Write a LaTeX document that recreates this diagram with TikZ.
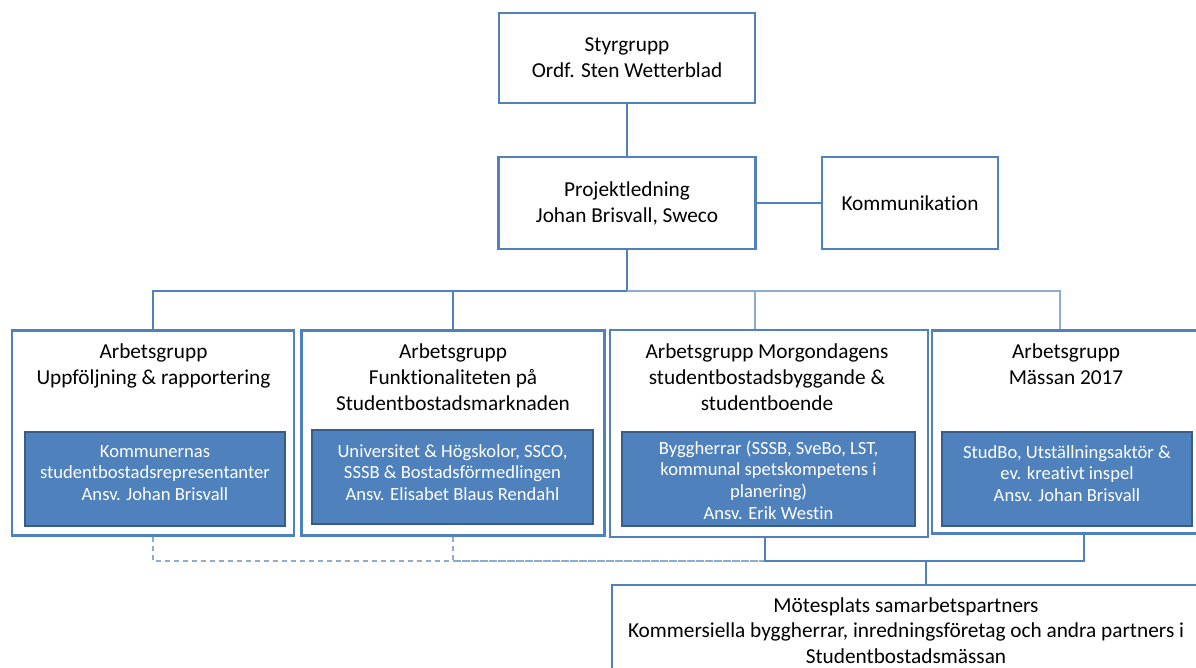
\documentclass[tikz,border=0pt]{standalone}
\usepackage{fontspec}
\setmainfont[Ligatures=NoCommon]{Carlito}
\definecolor{boxblue}{RGB}{79,129,189}
\definecolor{darkblue}{RGB}{56,93,138}
\definecolor{lineblue}{RGB}{79,129,189}
\definecolor{lightline}{RGB}{140,172,212}
\tikzset{
  box/.style={draw=boxblue, line width=2.6pt, fill=white, inner sep=0pt},
  inbox/.style={draw=darkblue, line width=1.8pt, fill=boxblue, inner sep=0pt},
  ttl/.style={font=\fontsize{21.3}{26}\selectfont, align=center, text=black, inner sep=0pt},
  intxt/.style={font=\fontsize{18.6}{21.7}\selectfont, align=center, text=white, inner sep=0pt},
  conn/.style={draw=lineblue, line width=1.4pt},
  lconn/.style={draw=lightline, line width=1.6pt},
  dconn/.style={draw=lightline, line width=1.4pt, dash pattern=on 5pt off 4pt},
}
\begin{document}
\begin{tikzpicture}[x=1pt,y=-1pt]
\fill[white] (0,0) rectangle (1196,667);
\useasboundingbox (0,0) rectangle (1196,667);
% top boxes
\node[box, ttl, minimum width=256, minimum height=90] (styr) at (627,58) {Styrgrupp\\Ordf. Sten Wetterblad};
\node[box, ttl, minimum width=257, minimum height=92] (proj) at (627,203) {Projektledning\\Johan Brisvall, Sweco};
\node[box, ttl, minimum width=176, minimum height=92] (komm) at (910,203) {Kommunikation};
% working group boxes
\node[box, minimum width=282, minimum height=205] (b1) at (153,433) {};
\node[box, minimum width=303, minimum height=205] (b2) at (453,433) {};
\node[box, minimum width=318, minimum height=207] (b3) at (769,433.5) {};
\node[box, minimum width=272, minimum height=203] (b4) at (1068,432) {};
% titles
\node[ttl, anchor=north] (t1) at (153.5,343.5) {Arbetsgrupp\\Uppföljning \& rapportering};
\node[ttl, anchor=north] (t2) at (453,343.5) {Arbetsgrupp\\Funktionaliteten på\\Studentbostadsmarknaden};
\node[ttl, anchor=north] (t3) at (767,343.5) {Arbetsgrupp Morgondagens\\studentbostadsbyggande \&\\studentboende};
\node[ttl, anchor=north] (t4) at (1066,343.5) {Arbetsgrupp\\Mässan 2017};
% inner boxes
\node[inbox, minimum width=260, minimum height=94] (i1) at (155,479) {};
\node[inbox, minimum width=281, minimum height=94] (i2) at (452.5,477) {};
\node[inbox, minimum width=293, minimum height=94] (i3) at (768.5,479) {};
\node[inbox, minimum width=250, minimum height=94] (i4) at (1067,479) {};
\node[intxt] (x1) at (155,473) {Kommunernas\\studentbostadsrepresentanter\\Ansv. Johan Brisvall};
\node[intxt] (x2) at (452.5,472.5) {Universitet \& Högskolor, SSCO,\\SSSB \& Bostadsförmedlingen\\Ansv. Elisabet Blaus Rendahl};
\node[intxt] (x3) at (768.5,480) {Byggherrar (SSSB, SveBo, LST,\\kommunal spetskompetens i\\planering)\\Ansv. Erik Westin};
\node[intxt] (x4) at (1067,473.5) {StudBo, Utställningsaktör \&\\ev. kreativt inspel\\Ansv. Johan Brisvall};
% bottom box
\node[box, minimum width=592, minimum height=115] (mot) at (908,642.5) {};
\node[ttl, anchor=north, font=\fontsize{21.3}{25.5}\selectfont] (mt) at (906,597) {Mötesplats samarbetspartners\\Kommersiella byggherrar, inredningsföretag och andra partners i\\Studentbostadsmässan};
% connectors
\coordinate (bus) at (627,291);
\coordinate (j) at (926,561);
\draw[conn] (styr.south) -- (proj.north);
\draw[conn] (proj.east) -- (komm.west);
\draw[draw=lineblue, line width=2.8pt] (proj.south) -- (bus);
\draw[conn] (b1.north) |- (bus);
\draw[conn] (b2.north) |- (bus);
\draw[lconn] (bus) -| ([xshift=-14pt]b3.north);
\draw[lconn] (bus) -| ([xshift=-8pt]b4.north);
\draw[dconn] (b1.south) |- ([xshift=7pt]j);
\draw[dconn] (b2.south) |- (j);
\draw[conn] ([xshift=-4pt]b3.south) |- ([xshift=16pt]b4.south |- j) -- ([xshift=16pt]b4.south);
\draw[conn] (j) -- (j |- mot.north);
\end{tikzpicture}
\end{document}
